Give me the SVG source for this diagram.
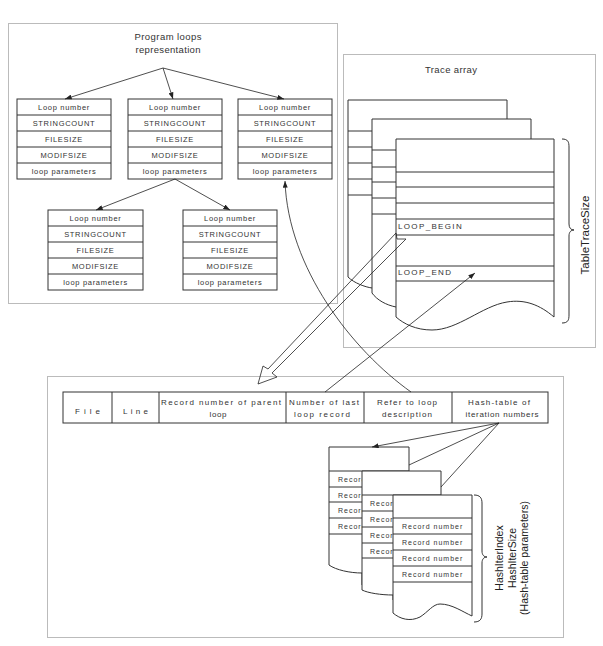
<svg xmlns="http://www.w3.org/2000/svg" width="603" height="646" viewBox="0 0 603 646">
<style>
.bg{fill:#fff}
.dot{fill:none;stroke:#777;stroke-width:1;stroke-dasharray:1 1}
.box{fill:#fff;stroke:#333;stroke-width:1}
.ln{fill:none;stroke:#333;stroke-width:1}
text{font-family:"Liberation Sans",Arial,sans-serif;fill:#333}
.bt{font-size:7.5px;letter-spacing:0.7px;text-anchor:middle}
.tr{font-size:8px;letter-spacing:1.35px}
.hr{font-size:7px;letter-spacing:1px}
.tb{font-size:8px;text-anchor:middle}
.ti{font-size:9.5px;text-anchor:middle}
.lb{font-size:11.5px;text-anchor:middle;fill:#222}
.lh{font-size:10.5px;text-anchor:middle;fill:#222}
.con{fill:none;stroke:#222;stroke-width:0.8}
</style>
<defs>
<marker id="ah" viewBox="0 0 8 6" refX="8" refY="3" markerWidth="7" markerHeight="5" orient="auto" markerUnits="userSpaceOnUse"><path d="M0,0 L8,3 L0,6 Z" fill="#222"/></marker>
</defs>
<rect class="bg" x="0" y="0" width="603" height="646"/>

<g id="program-loops">
<rect class="dot" x="8.5" y="23.5" width="329" height="280"/>
<text class="ti" x="168" y="40" textLength="67">Program loops</text>
<text class="ti" x="168" y="53" textLength="65">representation</text>
</g>

<g id="loop1">
<rect class="box" x="17" y="99" width="94" height="80"/>
<path class="ln" d="M17,115H111M17,131H111M17,147H111M17,163H111"/>
<text class="bt" x="64" y="110">Loop number</text><text class="bt" x="64" y="126">STRINGCOUNT</text><text class="bt" x="64" y="142">FILESIZE</text><text class="bt" x="64" y="158">MODIFSIZE</text><text class="bt" x="64" y="174">loop parameters</text>
</g>
<g id="loop2">
<rect class="box" x="128" y="99" width="94" height="80"/>
<path class="ln" d="M128,115H222M128,131H222M128,147H222M128,163H222"/>
<text class="bt" x="175" y="110">Loop number</text><text class="bt" x="175" y="126">STRINGCOUNT</text><text class="bt" x="175" y="142">FILESIZE</text><text class="bt" x="175" y="158">MODIFSIZE</text><text class="bt" x="175" y="174">loop parameters</text>
</g>
<g id="loop3">
<rect class="box" x="238" y="99" width="94" height="80"/>
<path class="ln" d="M238,115H332M238,131H332M238,147H332M238,163H332"/>
<text class="bt" x="285" y="110">Loop number</text><text class="bt" x="285" y="126">STRINGCOUNT</text><text class="bt" x="285" y="142">FILESIZE</text><text class="bt" x="285" y="158">MODIFSIZE</text><text class="bt" x="285" y="174">loop parameters</text>
</g>
<g id="loop4">
<rect class="box" x="48" y="210" width="95" height="80"/>
<path class="ln" d="M48,226H143M48,242H143M48,258H143M48,274H143"/>
<text class="bt" x="95.5" y="221">Loop number</text><text class="bt" x="95.5" y="237">STRINGCOUNT</text><text class="bt" x="95.5" y="253">FILESIZE</text><text class="bt" x="95.5" y="269">MODIFSIZE</text><text class="bt" x="95.5" y="285">loop parameters</text>
</g>
<g id="loop5">
<rect class="box" x="183" y="210" width="94" height="80"/>
<path class="ln" d="M183,226H277M183,242H277M183,258H277M183,274H277"/>
<text class="bt" x="230" y="221">Loop number</text><text class="bt" x="230" y="237">STRINGCOUNT</text><text class="bt" x="230" y="253">FILESIZE</text><text class="bt" x="230" y="269">MODIFSIZE</text><text class="bt" x="230" y="285">loop parameters</text>
</g>

<g id="trace-array">
<rect class="dot" x="343.5" y="54.5" width="252" height="293"/>
<text class="ti" x="451" y="73" textLength="52">Trace array</text>
<path class="box" d="M348,100H507V250L372,288C365,287 354,283 348,277Z"/>
<path class="ln" d="M348,131H507M348,147H507M348,163H507M348,179H507M348,195H507"/>
<path class="box" d="M372,119H531V250L396,307C386,305 377,300 372,293Z"/>
<path class="ln" d="M372,150H531M372,167H531M372,182H531M372,198H531M372,214H531"/>
<path class="box" d="M396,139H554V317C540,305 525,299 507,302C482,306 458,330 432,330C416,330 404,324 396,317Z"/>
<path class="ln" d="M396,172H554M396,187H554M396,203H554M396,219H554M396,235H554M396,266H554M396,281H554"/>
<text class="tr" x="398" y="229">LOOP_BEGIN</text>
<text class="tr" x="398" y="275">LOOP_END</text>
<path class="ln" d="M562,139C568,139 569,142 569,147V224C569,228 571,230 574,230C571,230 569,232 569,236V315C569,320 568,323 562,323"/>
<text class="lb" transform="translate(589,235) rotate(-90)">TableTraceSize</text>
</g>

<g id="loop-record">
<rect class="dot" x="47.5" y="376.5" width="516" height="261"/>
<rect class="box" x="63" y="392" width="485" height="31"/>
<path class="ln" d="M112,392V423M159,392V423M286,392V423M364,392V423M452,392V423"/>
<text class="tb" x="87.5" y="414" textLength="25">File</text>
<text class="tb" x="135.5" y="414" textLength="25">Line</text>
<text class="tb" x="221" y="405" textLength="120">Record number of parent</text>
<text class="tb" x="218" y="417" textLength="17">loop</text>
<text class="tb" x="324" y="405" textLength="70">Number of last</text>
<text class="tb" x="322" y="417" textLength="56">loop record</text>
<text class="tb" x="407" y="405" textLength="60">Refer to loop</text>
<text class="tb" x="407" y="417" textLength="50">description</text>
<text class="tb" x="499" y="405" textLength="62">Hash-table of</text>
<text class="tb" x="502" y="417" textLength="73">iteration numbers</text>
</g>

<g id="hash-table">
<path class="box" d="M329,447H409V585H362V573C350,573 336,570 329,565Z"/>
<path class="ln" d="M329,471H409M329,487H409M329,502H409M329,518H409M329,534H409"/>
<text class="hr" x="338" y="482">Record number</text><text class="hr" x="338" y="498">Record number</text><text class="hr" x="338" y="513">Record number</text><text class="hr" x="338" y="529">Record number</text>
<path class="box" d="M362,471H441V600H393V595C381,595 368,593 362,590Z"/>
<path class="ln" d="M362,495H441M362,511H441M362,527H441M362,543H441M362,558H441"/>
<text class="hr" x="370" y="506">Record number</text><text class="hr" x="370" y="522">Record number</text><text class="hr" x="370" y="538">Record number</text><text class="hr" x="370" y="554">Record number</text>
<path class="box" d="M393,495H472V616C463,612 452,604 440,604C433,604 428,612 420,617C410,622 400,619 393,613Z"/>
<path class="ln" d="M393,518H472M393,534H472M393,550H472M393,566H472M393,582H472"/>
<text class="hr" x="402" y="529">Record number</text><text class="hr" x="402" y="545">Record number</text><text class="hr" x="402" y="561">Record number</text><text class="hr" x="402" y="577">Record number</text>
<path class="ln" d="M474,495C480,495 482,498 482,503V551C482,555 484,557 487,557C484,557 482,559 482,563V614C482,619 480,622 474,622"/>
<text class="lh" transform="translate(503,558) rotate(-90)">HashIterIndex</text>
<text class="lh" transform="translate(516,558) rotate(-90)">HashIterSize</text>
<text class="lh" transform="translate(528,558) rotate(-90)">(Hash-table parameters)</text>
</g>

<g id="connectors">
<path class="con" marker-end="url(#ah)" d="M163,68L65,99"/>
<path class="con" marker-end="url(#ah)" d="M163,68L173,99"/>
<path class="con" marker-end="url(#ah)" d="M163,68L284,99"/>
<path class="con" marker-end="url(#ah)" d="M175,179L96,210"/>
<path class="con" marker-end="url(#ah)" d="M175,179L230,210"/>
<path class="con" marker-end="url(#ah)" d="M411,392C352,350 288,268 285,181"/>
<path class="con" marker-end="url(#ah)" d="M325,392L475,273"/>
<path class="con" d="M396,233L268,369L263,366L258,384L277,377L272,373L406,239L397,239Z"/>
<path class="con" marker-end="url(#ah)" d="M499,423L372,447"/>
<path class="con" d="M499,423L409,465"/>
<path class="con" d="M499,423L441,487"/>
</g>
</svg>
